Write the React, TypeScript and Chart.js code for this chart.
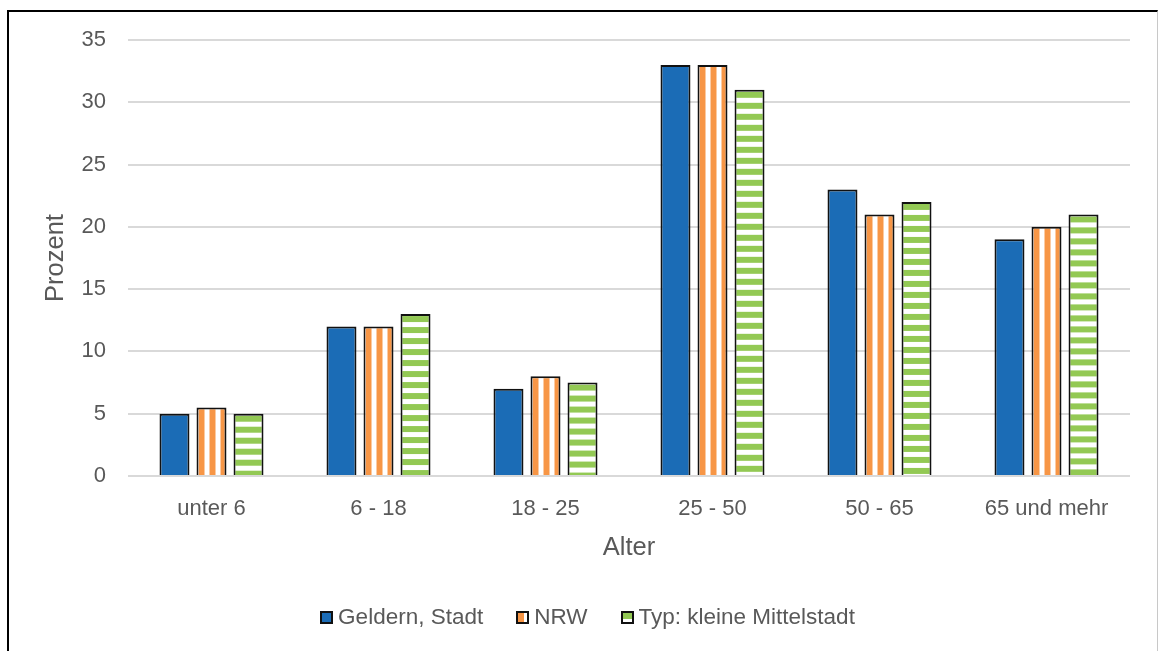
import React, { useEffect, useRef } from 'react';
import { Chart, registerables } from 'chart.js';

Chart.register(...registerables);

const categories = ['unter 6', '6 - 18', '18 - 25', '25 - 50', '50 - 65', '65 und mehr'];
const seriesNames = ['Geldern, Stadt', 'NRW', 'Typ: kleine Mittelstadt'];
const geldern = [5, 12, 7, 33, 23, 19];
const nrw = [5.5, 12, 8, 33, 21, 20];
const typ = [5, 13, 7.5, 31, 22, 21];
const yMin = 0;
const yMax = 35;
const yStep = 5;
const xTitle = 'Alter';
const yTitle = 'Prozent';

const BLUE = '#1b6cb6';
const ORANGE = '#f79646';
const GREEN = '#93c954';
const BORDER = '#111111';
const TEXT = '#595959';
const GRID = '#d9d9d9';
const FONT = "'Liberation Sans', Arial, sans-serif";

const CAT_PCT = 0.665;
const BAR_PCT = 0.81;
const BW = 2;

const CW = 1148;
const CH = 639;

function makeStripe(kind: 'v' | 'h'): HTMLCanvasElement {
  const c = document.createElement('canvas');
  const p = 11;
  if (kind === 'v') {
    c.width = p; c.height = 1;
    const g = c.getContext('2d')!;
    g.fillStyle = '#ffffff'; g.fillRect(0, 0, p, 1);
    g.fillStyle = ORANGE; g.fillRect(0, 0, 6, 1);
  } else {
    c.width = 1; c.height = p;
    const g = c.getContext('2d')!;
    g.fillStyle = '#ffffff'; g.fillRect(0, 0, 1, p);
    g.fillStyle = GREEN; g.fillRect(0, 0, 1, 6);
  }
  return c;
}

export default function App() {
  const ref = useRef<HTMLCanvasElement | null>(null);

  useEffect(() => {
    const canvas = ref.current;
    if (!canvas) return;
    const ctx = canvas.getContext('2d')!;
    const vTile = makeStripe('v');
    const hTile = makeStripe('h');
    const basePattern = (kind: 'v' | 'h', ox: number, oy: number) => {
      const pat = ctx.createPattern(kind === 'v' ? vTile : hTile, 'repeat')!;
      pat.setTransform(new DOMMatrix([1, 0, 0, 1, ox, oy]));
      return pat;
    };
    const kinds: Array<'s' | 'v' | 'h'> = ['s', 'v', 'h'];

    const scripted = (kind: 'v' | 'h', dsIndex: number) => (c: any) => {
      const chart = c.chart;
      const xs = chart.scales && chart.scales.x;
      const ys = chart.scales && chart.scales.y;
      if (c.type !== 'data' || !xs || !ys || !chart.chartArea || c.dataIndex === undefined) {
        return basePattern(kind, 0, 0);
      }
      const center = xs.getPixelForValue(c.dataIndex);
      const catW = xs.width / categories.length;
      const slot = (catW * CAT_PCT) / 3;
      const bw = slot * BAR_PCT;
      const left = center + (dsIndex - 1) * slot - bw / 2;
      const top = ys.getPixelForValue(c.raw);
      return basePattern(kind, left + BW, top + BW);
    };

    const legendPlugin = {
      id: 'customLegend',
      afterDraw(chart: any) {
        const g = chart.ctx as CanvasRenderingContext2D;
        g.save();
        g.font = `22.5px ${FONT}`;
        const box = 13, gap = 5, itemGap = 33;
        const cx = 578.5, cy = 605;
        const widths = seriesNames.map((s) => g.measureText(s).width);
        const total = widths.reduce((a, w) => a + box + gap + w, 0) + itemGap * (seriesNames.length - 1);
        let x = cx - total / 2;
        seriesNames.forEach((name, i) => {
          const bx = Math.round(x), by = Math.round(cy - box / 2);
          const k = kinds[i];
          g.fillStyle = k === 's' ? BLUE : basePattern(k, bx + 2, by + 2);
          g.fillRect(bx + 2, by + 2, box - 4, box - 4);
          g.strokeStyle = BORDER;
          g.lineWidth = 2;
          g.strokeRect(bx + 1, by + 1, box - 2, box - 2);
          g.fillStyle = TEXT;
          g.textBaseline = 'middle';
          g.textAlign = 'left';
          g.fillText(name, x + box + gap, cy + 1);
          x += box + gap + widths[i] + itemGap;
        });
        g.restore();
      },
    };

    const chart = new Chart(ctx, {
      type: 'bar',
      data: {
        labels: categories,
        datasets: [
          { label: seriesNames[0], data: geldern, backgroundColor: BLUE, borderColor: BORDER, borderWidth: BW },
          { label: seriesNames[1], data: nrw, backgroundColor: scripted('v', 1), borderColor: BORDER, borderWidth: BW },
          { label: seriesNames[2], data: typ, backgroundColor: scripted('h', 2), borderColor: BORDER, borderWidth: BW },
        ],
      },
      options: {
        responsive: false,
        animation: false,
        categoryPercentage: CAT_PCT,
        barPercentage: BAR_PCT,
        layout: { padding: { left: 0, right: 27, top: 28, bottom: 75 } },
        plugins: {
          tooltip: { enabled: false },
          legend: { display: false },
        },
        scales: {
          x: {
            grid: { display: false },
            border: { display: false },
            ticks: { color: TEXT, font: { family: FONT, size: 22 }, padding: 12 },
            title: { display: true, text: xTitle, color: TEXT, font: { family: FONT, size: 25.5 }, padding: { top: 0, bottom: 13 } },
            afterFit: (s: any) => { s.height = 100; },
          },
          y: {
            min: yMin,
            max: yMax,
            ticks: { stepSize: yStep, color: TEXT, font: { family: FONT, size: 22 }, padding: 14 },
            grid: { color: GRID, lineWidth: 2, drawTicks: true, tickLength: 8, tickColor: 'rgba(0,0,0,0)' },
            border: { display: false },
            title: { display: true, text: yTitle, color: TEXT, font: { family: FONT, size: 25.5 }, padding: { top: 31.7, bottom: 0 } },
            afterFit: (s: any) => { s.width = 119; },
          },
        },
      },
      plugins: [legendPlugin],
    });
    return () => chart.destroy();
  }, []);

  return (
    <div
      style={{
        position: 'absolute',
        left: 7,
        top: 10,
        width: CW,
        height: CH,
        borderLeft: '2px solid #000',
        borderTop: '2px solid #000',
        borderRight: '1px solid #c8c8c8',
        background: '#fff',
      }}
    >
      <canvas ref={ref} width={CW} height={CH} style={{ display: 'block' }} />
    </div>
  );
}
